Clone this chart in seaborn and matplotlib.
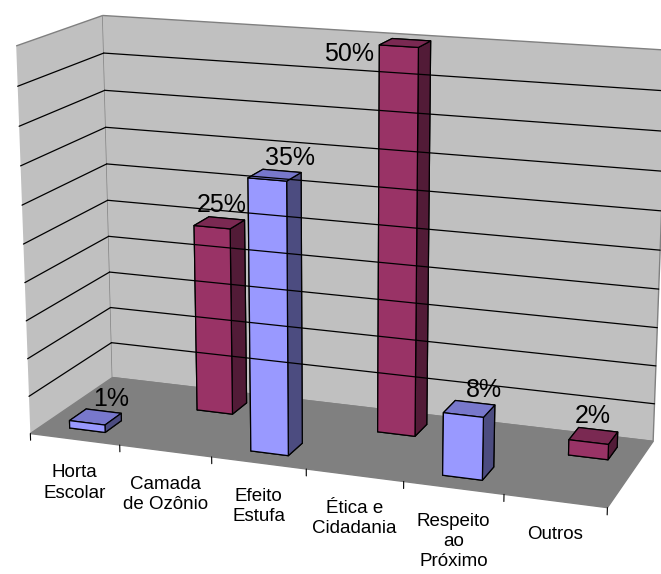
import numpy as np
import matplotlib
matplotlib.use("Agg")
import matplotlib.pyplot as plt
from matplotlib.transforms import offset_copy
from mpl_toolkits.mplot3d import proj3d
import seaborn as sns

# ---- data -------------------------------------------------------------
categories = ["Horta\nEscolar", "Camada\nde Ozônio", "Efeito\nEstufa",
              "Ética e\nCidadania", "Respeito\nao\nPróximo", "Outros"]
values = [1, 25, 35, 50, 8, 2]          # percent
series_row = [0, 1, 0, 1, 0, 1]         # 0 = front row (blue), 1 = back row (magenta)
value_labels = ["1%", "25%", "35%", "50%", "8%", "2%"]
z_max = 50
grid_step = 5

# ---- style ------------------------------------------------------------
sns.set_style("white")
plt.rcParams['font.family'] = ['Liberation Sans', 'DejaVu Sans']
plt.rcParams['text.color'] = 'black'

# front, top, side colours per series
palette = [
    ("#9999FF", "#7878CC", "#4C4C80"),
    ("#993366", "#7A2952", "#521B37"),
]
label_shift = [0.72, 0.35]   # label x position along bar width, per row

fig = plt.figure(figsize=(6.61, 5.74), dpi=100)
fig.patch.set_facecolor("white")
ax = fig.add_axes([0.0030, 0.0560, 1.0, 1.0], projection="3d")
ax.set_proj_type("persp", focal_length=0.75)
ax.view_init(elev=15, azim=-70)
ax.set_box_aspect((620, 200, 412), zoom=1.275)

n = len(categories)
ax.set_xlim(0, n)
ax.set_ylim(0, 2)
ax.set_zlim(0, z_max)

# walls and floor
ax.xaxis.set_pane_color("#C0C0C0")
ax.yaxis.set_pane_color("#C0C0C0")
ax.zaxis.set_pane_color("#808080")
for a in (ax.xaxis, ax.yaxis):
    a.pane.set_edgecolor("#808080")
    a.pane.set_linewidth(1.0)
ax.zaxis.pane.set_edgecolor("#808080")
for a in (ax.xaxis, ax.yaxis, ax.zaxis):
    a.line.set_visible(False)
    a.set_ticks([])
    a.label.set_visible(False)
    a.offsetText.set_visible(False)
ax.grid(False)

# horizontal gridlines on the two walls
for zv in np.arange(grid_step, z_max, grid_step):
    ax.plot([0, n], [2, 2], [zv, zv], color="black", lw=0.9, clip_on=False)
    ax.plot([0, 0], [0, 2], [zv, zv], color="black", lw=0.9, clip_on=False)

# bars
bw, bd = 0.4, 0.4
xs = np.arange(n) + 0.5 - bw / 2
row_centers = [0.5, 1.5]
ys = np.array([row_centers[r] for r in series_row]) - bd / 2
face_colors = []
for r in series_row:
    fr, tp, sd = palette[r]
    # order: -z, +z, -y, +y, -x, +x
    face_colors += [tp, tp, fr, fr, sd, sd]
bars = ax.bar3d(xs, ys, np.zeros(n), bw, bd, values, color=face_colors,
                shade=False, edgecolor="black", linewidth=0.9)
bars.set_clip_on(False)

# category ticks
for i in range(n + 1):
    ax.plot([i, i], [0, 0], [0, -0.9], color="black", lw=0.8, clip_on=False)

# texts: project 3D anchor points to the 2D axes coordinates
fig.canvas.draw()
M = ax.get_proj()


def proj(x, y, z):
    px, py, _ = proj3d.proj_transform(x, y, z, M)
    return float(px), float(py)


for i, (v, lab) in enumerate(zip(values, value_labels)):
    r = series_row[i]
    yb = row_centers[r] + bd / 2
    if v + 4 > z_max:
        px, py = proj(xs[i], ys[i], v)
        ax.text2D(px, py, lab, ha="right", va="top", fontsize=18, zorder=100,
                  transform=offset_copy(ax.transData, fig=fig, x=-4, y=2, units="points"))
    else:
        px, py = proj(xs[i] + bw * label_shift[r], yb, v)
        ax.text2D(px, py, lab, ha="center", va="bottom", fontsize=18, zorder=100,
                  transform=offset_copy(ax.transData, fig=fig, x=0, y=1, units="points"))

for i, cat in enumerate(categories):
    px, py = proj(i + 0.5, 0, 0)
    ax.text2D(px, py, cat, ha="center", va="top", fontsize=13.5,
              linespacing=1.25, zorder=100,
              transform=offset_copy(ax.transData, fig=fig, x=0, y=-18, units="points"))

fig.savefig("out.png", dpi=100, facecolor="white")
